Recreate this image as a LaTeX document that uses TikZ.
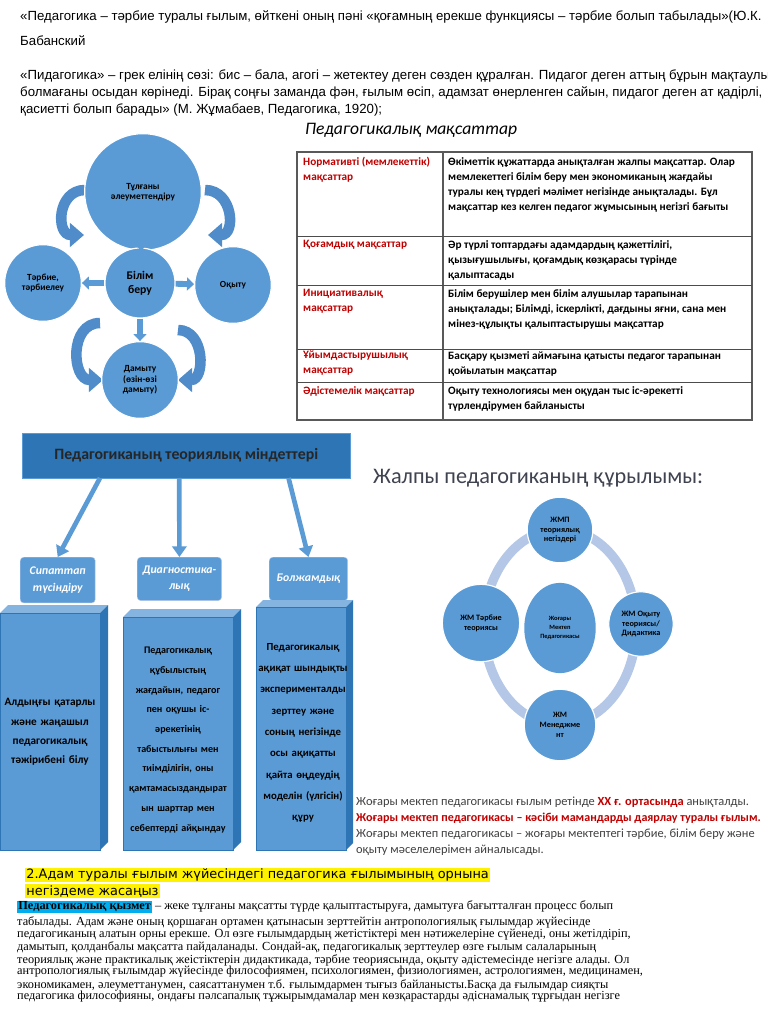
\documentclass[tikz,border=0pt]{standalone}
\usepackage{fontspec}
\setmainfont{Liberation Serif}
\newfontfamily\sansf{Liberation Sans}
\newfontfamily\calf{Carlito}
\newfontfamily\dejaf{DejaVu Sans}
\usetikzlibrary{arrows.meta,shapes.geometric,positioning}
\definecolor{cblue}{HTML}{5B9BD5}
\definecolor{dblue}{HTML}{2E75B6}
\definecolor{bband}{HTML}{4F8CC9}
\definecolor{ring}{HTML}{B4C7E7}
\definecolor{rtxt}{HTML}{C00000}
\definecolor{ttl}{HTML}{3F4350}
\tikzset{
	x=0.03cm, y=-0.03cm,
	line/.style ={anchor=west, inner sep=0pt},
	bubble/.style ={circle, fill=cblue, draw=white, line width=1pt, align=center, font=\calf\bfseries\fontsize{8}{9}\selectfont},
	band/.style ={bband, line width=9pt, -{Triangle[length=12pt,width=20pt]}},
	stub/.style ={cblue, line width=5pt, -{Triangle[length=6pt,width=11pt]}},
	cell/.style ={anchor=north west, inner sep=0pt, align=left, font=\calf\bfseries\fontsize{9.6}{12.8}\selectfont},
	tag/.style ={rounded corners=3pt, fill=cblue, draw=ring, align=center, text=white, font=\calf\bfseries\itshape\fontsize{10}{14}\selectfont},
	down/.style ={cblue, line width=4pt, -{Triangle[length=9pt,width=12pt]}},
	body/.style ={align=center, text width=2.9cm, font=\calf\bfseries\fontsize{9.6}{16.5}\selectfont},
	sat/.style ={circle, fill=cblue, draw=white, line width=1pt, align=center, inner sep=1pt, font=\calf\bfseries\fontsize{7}{8.5}\selectfont}
}
\begin{document}
\begin{tikzpicture}
\useasboundingbox[fill=white] (0,0) rectangle (768,1024);
% opening quotations
\begin{scope}[font=\sansf\fontsize{11.3}{12}\selectfont]
\node[line] (q1) at (20,17) {«Педагогика – тәрбие туралы ғылым, өйткені оның пәні «қоғамның ерекше функциясы – тәрбие болып табылады»(Ю.К.};
\node[line] (q2) at (20,41) {Бабанский};
\node[line] (q3) at (20,76) {«Пидагогика» – грек елінің сөзі: бис – бала, агогі – жетектеу деген сөзден құралған. Пидагог деген аттың бұрын мақтаулы};
\node[line] (q4) at (20,93) {болмағаны осыдан көрінеді. Бірақ соңғы заманда фән, ғылым өсіп, адамзат өнерленген сайын, пидагог деген ат қадірлі,};
\node[line] (q5) at (20,110) {қасиетті болып барады» (М. Жұмабаев, Педагогика, 1920);};
\end{scope}
\node[line, font=\calf\itshape\fontsize{15}{16}\selectfont] (goalsT) at (305,130) {Педагогикалық мақсаттар};

% cycle of education
\coordinate (a1) at (85,190);  \coordinate (a2) at (84,235);
\coordinate (b1) at (205,190); \coordinate (b2) at (208,235);
\coordinate (c1) at (100,323); \coordinate (c2) at (103,380);
\coordinate (d1) at (178,330); \coordinate (d2) at (178,380);
\draw[band] (a1) to[out=180,in=180,looseness=1.6] (a2);
\draw[band] (b1) to[out=0,in=0,looseness=1.6] (b2);
\draw[band] (c1) to[out=180,in=180,looseness=1.4] (c2);
\draw[band] (d1) to[out=0,in=0,looseness=1.4] (d2);
\node[ellipse, bubble, inner sep=0pt, minimum width=3.5cm, minimum height=2.4cm] (socB) at (143,192) {Тұлғаны\\әлеуметтендіру};
\node[bubble, minimum size=2.1cm, font=\calf\bfseries\fontsize{10}{12}\selectfont] (edu) at (140,283) {Білім\\беру};
\node[bubble, minimum size=2.3cm] (upb) at (43,283) {Тәрбие,\\тәрбиелеу};
\node[bubble, minimum size=2.3cm] (teach) at (233,285) {Оқыту};
\node[bubble, minimum size=2.3cm] (dev) at (140,380) {Дамыту\\(өзін-өзі\\дамыту)};
\draw[stub] (edu) -- (socB);
\draw[stub] (edu) -- (upb);
\draw[stub] (edu) -- (teach);
\draw[stub] (edu) -- (dev);

% goals table
\coordinate (tl) at (297,152); \coordinate (br) at (752,420);
\draw[line width=1pt, gray!70!black] (tl) rectangle (br);
\draw[line width=1pt, gray!70!black] (443,152) -- (443,420);
\foreach \yy in {236,285,349,382} \draw[gray!60!black] (297,\yy) -- (752,\yy);
\foreach \yy/\lt/\rt in {
 157/{\textcolor{rtxt}{Нормативті (мемлекеттік)}\\\textcolor{rtxt}{мақсаттар}}/{Өкіметтік құжаттарда анықталған жалпы мақсаттар. Олар\\мемлекеттегі білім беру мен экономиканың жағдайы\\туралы кең түрдегі мәлімет негізінде анықталады. Бұл\\мақсаттар кез келген педагог жұмысының негізгі бағыты},
 240/{\textcolor{rtxt}{Қоғамдық мақсаттар}}/{Әр түрлі топтардағы адамдардың қажеттілігі,\\қызығушылығы, қоғамдық көзқарасы түрінде\\қалыптасады},
 289/{\textcolor{rtxt}{Инициативалық}\\\textcolor{rtxt}{мақсаттар}}/{Білім берушілер мен білім алушылар тарапынан\\анықталады; Білімді, іскерлікті, дағдыны яғни, сана мен\\мінез-құлықты қалыптастырушы мақсаттар},
 351/{\textcolor{rtxt}{Ұйымдастырушылық}\\\textcolor{rtxt}{мақсаттар}}/{Басқару қызметі аймағына қатысты педагог тарапынан\\қойылатын мақсаттар},
 386/{\textcolor{rtxt}{Әдістемелік мақсаттар}}/{Оқыту технологиясы мен оқудан тыс іс-әрекетті\\түрлендірумен байланысты}}
{
 \node[cell] (l\yy) at (303,\yy) {\lt};
 \node[cell] (r\yy) at (448,\yy) {\rt};
}

% theoretical tasks
\node[fill=dblue, draw=cblue, minimum width=280pt, minimum height=38pt, anchor=north west, font=\calf\bfseries\fontsize{13.5}{15}\selectfont] (head) at (22,433) {\textcolor{black!85}{Педагогиканың теориялық міндеттері}};
\node[tag, minimum width=64pt, minimum height=39pt, anchor=north west] (t1) at (20,557) {Сипаттап\\түсіндіру};
\node[tag, minimum width=72pt, minimum height=37pt, anchor=north west] (t2) at (137,557) {Диагностика-\\лық};
\node[tag, minimum width=67pt, minimum height=37pt, anchor=north west] (t3) at (269,557) {Болжамдық};
\draw[down] (head.south west) ++(78,0) coordinate (h1) -- (t1.north);
\draw[down] (head.south) ++(-7,0) coordinate (h2) -- (t2.north);
\draw[down] (head.south east) ++(-62,0) coordinate (h3) -- (t3.north);
\foreach \xa/\xb/\yt/\d in {0/100/613/8, 123/233/617/8, 256/346/607/7} {
 \fill[cblue!75!white] (\xa,\yt) -- (\xa+\d,\yt-\d) -- (\xb+\d,\yt-\d) -- (\xb,\yt) -- cycle;
 \fill[dblue] (\xb,\yt) -- (\xb+\d,\yt-\d) -- (\xb+\d,850-\d) -- (\xb,850) -- cycle;
 \fill[cblue] (\xa,\yt) rectangle (\xb,850);
 \draw[dblue] (\xa,\yt) rectangle (\xb,850);
}
\node[body, text width=2.9cm] (p1) at (50,732) {Алдыңғы қатарлы\\және жаңашыл\\педагогикалық\\тәжірибені білу};
\node[body, text width=3.3cm, font=\calf\bfseries\fontsize{8.6}{16.8}\selectfont] (p2) at (178,740) {Педагогикалық\\құбылыстың\\жағдайын, педагог\\пен оқушы іс-\\әрекетінің\\табыстылығы мен\\тиімділігін, оны\\қамтамасыздандырат\\ын шарттар мен\\себептерді айқындау};
\node[body, text width=2.9cm, font=\calf\bfseries\fontsize{9.2}{18.2}\selectfont] (p3) at (303,733) {Педагогикалық\\ақиқат шындықты\\эксперименталды\\зерттеу және\\соның негізінде\\осы ақиқатты\\қайта өңдеудің\\моделін (үлгісін)\\құру};

% structure of general pedagogy
\node[line, text=ttl, font=\calf\fontsize{19}{20}\selectfont] (strT) at (373,478) {Жалпы педагогиканың құрылымы:};
\node[ellipse, draw=ring, line width=8pt, minimum width=130pt, minimum height=167pt] (rg) at (560,627) {};
\node[sat, minimum size=56pt] (s1) at (560,530) {ЖМП\\теориялық\\негіздері};
\node[sat, minimum size=66pt] (s2) at (481,623) {ЖМ Тәрбие\\теориясы};
\node[sat, minimum size=55pt] (s3) at (641,624) {ЖМ Оқыту\\теориясы/\\Дидактика};
\node[sat, minimum size=61pt] (s4) at (560,725) {ЖМ\\Менеджме\\нт};
\node[ellipse, fill=cblue, minimum width=61pt, minimum height=77pt, inner sep=0pt, align=center, font=\calf\bfseries\fontsize{5.5}{7.5}\selectfont] (core) at (560,628) {Жоғары\\Мектеп\\Педагогикасы};
\begin{scope}[font=\calf\fontsize{10.6}{11}\selectfont, text=black!75]
\node[line] (n1) at (356,802) {Жоғары мектеп педагогикасы ғылым ретінде \textcolor{rtxt}{\bfseries ХХ ғ. ортасында} анықталды.};
\node[line, text=rtxt, font=\calf\bfseries\fontsize{10.3}{11}\selectfont] (n2) at (356,818) {Жоғары мектеп педагогикасы – кәсіби мамандарды даярлау туралы ғылым.};
\node[line] (n3) at (356,834) {Жоғары мектеп педагогикасы – жоғары мектептегі тәрбие, білім беру және};
\node[line] (n4) at (356,850) {оқыту мәселелерімен айналысады.};
\end{scope}

% question and paragraph
\begin{scope}[font=\dejaf\fontsize{11}{12}\selectfont]
\node[line, fill=yellow, inner sep=1pt] (h1q) at (25,875) {2.Адам туралы ғылым жүйесіндегі педагогика ғылымының орнына};
\node[line, fill=yellow, inner sep=1pt] (h2q) at (25,891) {негіздеме жасаңыз};
\end{scope}
\begin{scope}[font=\fontsize{10.5}{10}\selectfont]
\node[line] (b1) at (17,907) {{\fboxsep=1pt\colorbox{cyan}{\bfseries Педагогикалық қызмет}} – жеке тұлғаны мақсатты түрде қалыптастыруға, дамытуға бағытталған процесс болып};
\node[line] (b2) at (17,922) {табылады. Адам және оның қоршаған ортамен қатынасын зерттейтін антропологиялық ғылымдар жүйесінде};
\node[line] (b3) at (17,935) {педагогиканың алатын орны ерекше. Ол өзге ғылымдардың жетістіктері мен нәтижелеріне сүйенеді, оны жетілдіріп,};
\node[line] (b4) at (17,947) {дамытып, қолданбалы мақсатта пайдаланады. Сондай-ақ, педагогикалық зерттеулер өзге ғылым салаларының};
\node[line] (b5) at (17,960) {теориялық және практикалық жеістіктерін дидактикада, тәрбие теориясында, оқыту әдістемесінде негізге алады. Ол};
\node[line] (b6) at (17,972) {антропологиялық ғылымдар жүйесінде философиямен, психологиямен, физиологиямен, астрологиямен, медицинамен,};
\node[line] (b7) at (17,985) {экономикамен, әлеуметтанумен, саясаттанумен т.б. ғылымдармен тығыз байланысты.Басқа да ғылымдар сияқты};
\node[line] (b8) at (17,997) {педагогика философияны, ондағы пәлсапалық тұжырымдамалар мен көзқарастарды әдіснамалық тұрғыдан негізге};
\end{scope}
\end{tikzpicture}
\end{document}
